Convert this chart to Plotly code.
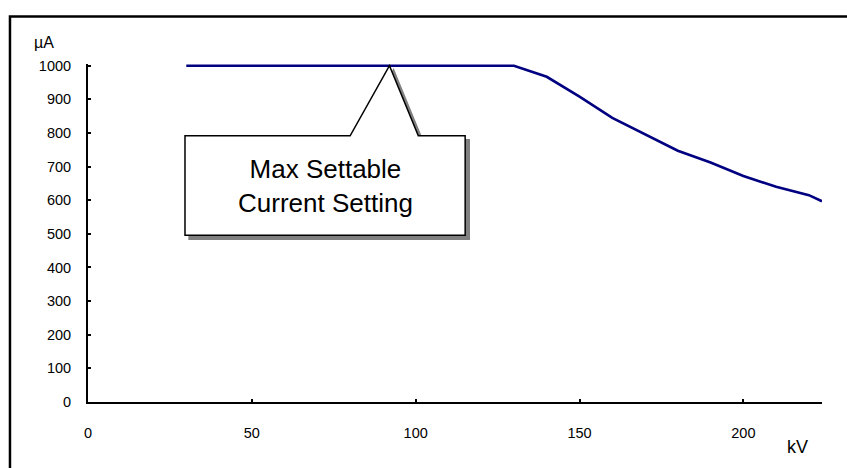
import plotly.graph_objects as go

# Tube voltage (kV) and maximum settable tube current (µA)
kv = [30, 40, 50, 60, 70, 80, 90, 100, 110, 120, 130,
      140, 150, 160, 170, 180, 190, 200, 210, 220, 224]
ua = [1000, 1000, 1000, 1000, 1000, 1000, 1000, 1000, 1000, 1000, 1000,
      967, 908, 845, 796, 747, 712, 672, 640, 615, 597]

x_ticks = [0, 50, 100, 150, 200]
y_ticks = [0, 100, 200, 300, 400, 500, 600, 700, 800, 900, 1000]

callout_text = "Max Settable<br>Current Setting"

FONT = "Liberation Sans, Arial, sans-serif"

fig = go.Figure()
fig.add_trace(go.Scatter(
    x=kv, y=ua, mode="lines",
    line=dict(color="#000080", width=2.6),
    cliponaxis=False,
    hoverinfo="skip", showlegend=False,
))

# Callout box (data units): pointer tip sits on the flat max-current segment
tip_x, tip_y = 92, max(ua)
bx0, bx1 = 29.6, 115.1
by0, by1 = 496, 791.5
px0, px1 = 80, 100.8
sdx, sdy = 1.25, -12  # drop shadow offset


def callout_path(dx=0.0, dy=0.0):
    pts = [(bx0, by1), (px0, by1), (tip_x, tip_y), (px1, by1),
           (bx1, by1), (bx1, by0), (bx0, by0)]
    return "M " + " L ".join(f"{x + dx},{y + dy}" for x, y in pts) + " Z"


shapes = [
    # drop shadow
    dict(type="path", xref="x", yref="y", path=callout_path(sdx, sdy),
         fillcolor="#808080", line=dict(color="#808080", width=1.5),
         layer="above"),
    # callout body
    dict(type="path", xref="x", yref="y", path=callout_path(),
         fillcolor="white", line=dict(color="black", width=1.5),
         layer="above"),
    # outer chart frame
    dict(type="rect", xref="paper", yref="paper",
         x0=-0.1063, x1=1.2, y0=-0.4, y1=1.1405,
         line=dict(color="black", width=2.5), fillcolor="rgba(0,0,0,0)",
         layer="below"),
]

annotations = [
    dict(x=(bx0 + bx1) / 2, y=642, xref="x", yref="y",
         text=callout_text, showarrow=False, align="center",
         font=dict(family=FONT, size=26, color="black")),
    dict(x=-0.0606, y=1.0638, xref="paper", yref="paper", text="µA",
         showarrow=False, xanchor="center", yanchor="middle",
         font=dict(family=FONT, size=16, color="black")),
    dict(x=0.966, y=-0.1346, xref="paper", yref="paper", text="kV",
         showarrow=False, xanchor="center", yanchor="middle",
         font=dict(family=FONT, size=18, color="black")),
]

axis_common = dict(
    showline=True, linecolor="black", linewidth=2,
    ticks="inside", ticklen=3, tickwidth=2, tickcolor="black",
    showgrid=False, zeroline=False,
    tickfont=dict(family=FONT, size=14.5, color="black"),
)

fig.update_layout(
    width=847, height=468,
    margin=dict(l=88, r=25, t=64, b=66),
    paper_bgcolor="white", plot_bgcolor="white",
    xaxis=dict(range=[0, 224], tickvals=x_ticks, ticklabelstandoff=17,
               **axis_common),
    yaxis=dict(range=[0, 1005], tickvals=y_ticks, ticklabelstandoff=12,
               **axis_common),
    shapes=shapes,
    annotations=annotations,
)

fig.write_html("out.html")
